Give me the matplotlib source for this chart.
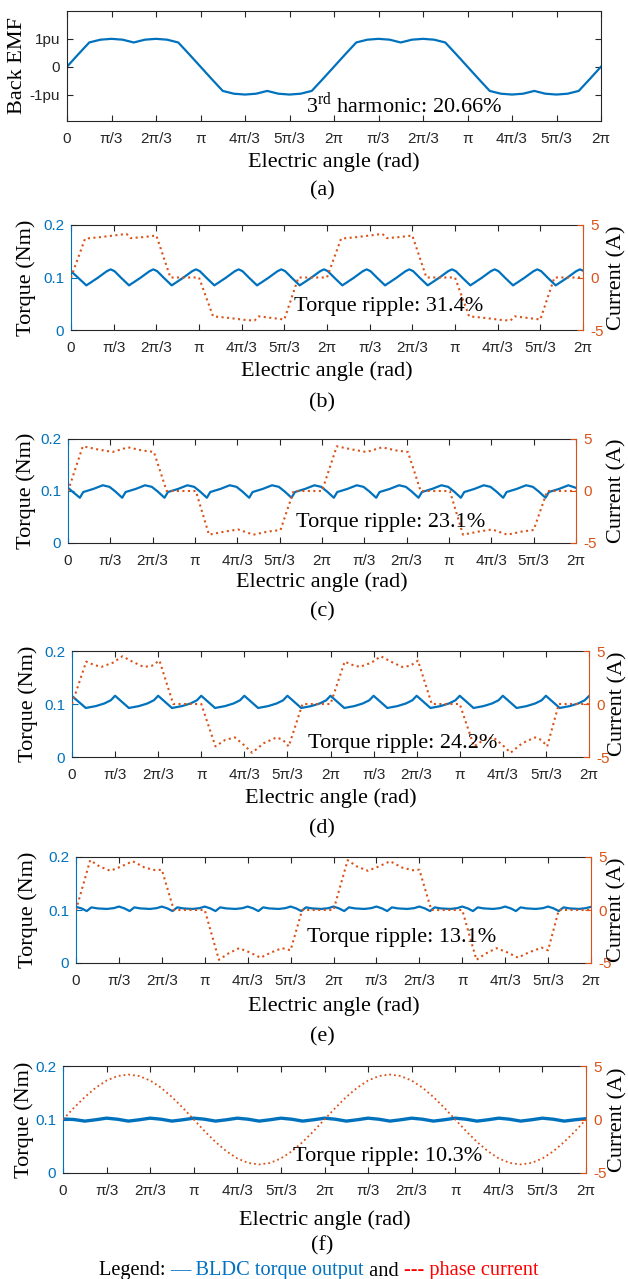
import numpy as np
import matplotlib.pyplot as plt

plt.rcParams['font.family'] = 'Liberation Serif'
plt.rcParams['mathtext.fontset'] = 'custom'
plt.rcParams['mathtext.rm'] = 'Liberation Serif'

BLUE = '#0072BD'
ORANGE = '#D95319'
GRAY = '#262626'
TICKFONT = 'Liberation Sans'

# x is in units of pi/3, two electrical periods
xtick_pos = list(range(13))
xtick_labels = ['0', 'π/3', '2π/3', 'π', '4π/3', '5π/3', '2π',
                'π/3', '2π/3', 'π', '4π/3', '5π/3', '2π']

# (a) back EMF, sampled every pi/12
emf_x = np.linspace(0, 12, 49)
emf = [0, 0.44, 0.87, 0.97, 1.0, 0.97, 0.87, 0.97, 1.0, 0.97, 0.87, 0.44,
       0, -0.44, -0.87, -0.97, -1.0, -0.97, -0.87, -0.97, -1.0, -0.97, -0.87, -0.44,
       0, 0.44, 0.87, 0.97, 1.0, 0.97, 0.87, 0.97, 1.0, 0.97, 0.87, 0.44,
       0, -0.44, -0.87, -0.97, -1.0, -0.97, -0.87, -0.97, -1.0, -0.97, -0.87, -0.44,
       0]

# (b)
tq_b_x = [0,
          0.36, 0.62, 0.84, 0.93, 1.02, 1.18,
          1.36, 1.62, 1.84, 1.93, 2.02, 2.18,
          2.36, 2.62, 2.84, 2.93, 3.02, 3.18,
          3.36, 3.62, 3.84, 3.93, 4.02, 4.18,
          4.36, 4.62, 4.84, 4.93, 5.02, 5.18,
          5.36, 5.62, 5.84, 5.93, 6.02, 6.18,
          6.36, 6.62, 6.84, 6.93, 7.02, 7.18,
          7.36, 7.62, 7.84, 7.93, 8.02, 8.18,
          8.36, 8.62, 8.84, 8.93, 9.02, 9.18,
          9.36, 9.62, 9.84, 9.93, 10.02, 10.18,
          10.36, 10.62, 10.84, 10.93, 11.02, 11.18,
          11.36, 11.62, 11.84, 11.93, 12.0]
tq_b_y = [0.112,
          0.085, 0.099, 0.112, 0.1155, 0.112, 0.099,
          0.085, 0.099, 0.112, 0.1155, 0.112, 0.099,
          0.085, 0.099, 0.112, 0.1155, 0.112, 0.099,
          0.085, 0.099, 0.112, 0.1155, 0.112, 0.099,
          0.085, 0.099, 0.112, 0.1155, 0.112, 0.099,
          0.085, 0.099, 0.112, 0.1155, 0.112, 0.099,
          0.085, 0.099, 0.112, 0.1155, 0.112, 0.099,
          0.085, 0.099, 0.112, 0.1155, 0.112, 0.099,
          0.085, 0.099, 0.112, 0.1155, 0.112, 0.099,
          0.085, 0.099, 0.112, 0.1155, 0.112, 0.099,
          0.085, 0.099, 0.112, 0.1155, 0.112, 0.099,
          0.085, 0.099, 0.112, 0.1155, 0.113]
cur_b_x = [0, 0.33, 0.7, 1.1, 1.3, 1.4, 1.7, 2.0, 2.33, 3.0,
           3.33, 3.7, 4.1, 4.3, 4.4, 4.7, 5.0, 5.33, 6.0,
           6.33, 6.7, 7.1, 7.3, 7.4, 7.7, 8.0, 8.33, 9.0,
           9.33, 9.7, 10.1, 10.3, 10.4, 10.7, 11.0, 11.33, 12.0]
cur_b_y = [0, 3.7, 3.85, 4.05, 4.15, 3.75, 3.85, 4.0, 0, 0,
           -3.7, -3.85, -4.05, -4.1, -3.7, -3.85, -4.0, 0, 0,
           3.7, 3.85, 4.05, 4.15, 3.75, 3.85, 4.0, 0, 0,
           -3.7, -3.85, -4.05, -4.1, -3.7, -3.85, -4.0, 0, 0]

# (c)
tq_c_x = [0,
          0.28, 0.36, 0.6, 0.82, 0.98, 1.12,
          1.28, 1.36, 1.6, 1.82, 1.98, 2.12,
          2.28, 2.36, 2.6, 2.82, 2.98, 3.12,
          3.28, 3.36, 3.6, 3.82, 3.98, 4.12,
          4.28, 4.36, 4.6, 4.82, 4.98, 5.12,
          5.28, 5.36, 5.6, 5.82, 5.98, 6.12,
          6.28, 6.36, 6.6, 6.82, 6.98, 7.12,
          7.28, 7.36, 7.6, 7.82, 7.98, 8.12,
          8.28, 8.36, 8.6, 8.82, 8.98, 9.12,
          9.28, 9.36, 9.6, 9.82, 9.98, 10.12,
          10.28, 10.36, 10.6, 10.82, 10.98, 11.12,
          11.28, 11.36, 11.6, 11.82, 12.0]
tq_c_y = [0.106,
          0.087, 0.098, 0.104, 0.111, 0.108, 0.099,
          0.087, 0.098, 0.104, 0.111, 0.108, 0.099,
          0.087, 0.098, 0.104, 0.111, 0.108, 0.099,
          0.087, 0.098, 0.104, 0.111, 0.108, 0.099,
          0.087, 0.098, 0.104, 0.111, 0.108, 0.099,
          0.087, 0.098, 0.104, 0.111, 0.108, 0.099,
          0.087, 0.098, 0.104, 0.111, 0.108, 0.099,
          0.087, 0.098, 0.104, 0.111, 0.108, 0.099,
          0.087, 0.098, 0.104, 0.111, 0.108, 0.099,
          0.087, 0.098, 0.104, 0.111, 0.108, 0.099,
          0.087, 0.098, 0.104, 0.111, 0.108, 0.099,
          0.087, 0.098, 0.104, 0.111, 0.106]
cur_c_x = [0, 0.35, 0.7, 1.05, 1.42, 1.75, 2.03, 2.33, 3.02,
           3.33, 3.7, 4.02, 4.38, 4.72, 5.02, 5.33, 6.0,
           6.35, 6.7, 7.05, 7.42, 7.75, 8.03, 8.33, 9.02,
           9.33, 9.7, 10.02, 10.38, 10.72, 11.0, 11.32, 12.0]
cur_c_y = [0, 4.3, 4.0, 3.75, 4.2, 3.9, 3.75, 0, 0,
           -4.2, -3.9, -3.7, -4.2, -3.9, -3.75, 0, 0,
           4.3, 4.0, 3.75, 4.2, 3.9, 3.75, 0, 0,
           -4.2, -3.9, -3.7, -4.2, -3.9, -3.75, 0, 0]

# (d)
tq_d_x = [0,
          0.32, 0.55, 0.75, 0.9, 1.0,
          1.32, 1.55, 1.75, 1.9, 2.0,
          2.32, 2.55, 2.75, 2.9, 3.0,
          3.32, 3.55, 3.75, 3.9, 4.0,
          4.32, 4.55, 4.75, 4.9, 5.0,
          5.32, 5.55, 5.75, 5.9, 6.0,
          6.32, 6.55, 6.75, 6.9, 7.0,
          7.32, 7.55, 7.75, 7.9, 8.0,
          8.32, 8.55, 8.75, 8.9, 9.0,
          9.32, 9.55, 9.75, 9.9, 10.0,
          10.32, 10.55, 10.75, 10.9, 11.0,
          11.32, 11.55, 11.75, 11.9, 12.0]
tq_d_y = [0.115,
          0.0925, 0.096, 0.101, 0.107, 0.1155,
          0.0925, 0.096, 0.101, 0.107, 0.1155,
          0.0925, 0.096, 0.101, 0.107, 0.1155,
          0.0925, 0.096, 0.101, 0.107, 0.1155,
          0.0925, 0.096, 0.101, 0.107, 0.1155,
          0.0925, 0.096, 0.101, 0.107, 0.1155,
          0.0925, 0.096, 0.101, 0.107, 0.1155,
          0.0925, 0.096, 0.101, 0.107, 0.1155,
          0.0925, 0.096, 0.101, 0.107, 0.1155,
          0.0925, 0.096, 0.101, 0.107, 0.1155,
          0.0925, 0.096, 0.101, 0.107, 0.1155,
          0.0925, 0.096, 0.101, 0.107, 0.115]
cur_d_x = [0, 0.33, 0.5, 0.68, 0.95, 1.17, 1.4, 1.66, 1.85, 2.03, 2.35, 3.0,
           3.33, 3.55, 3.78, 4.0, 4.18, 4.45, 4.75, 4.9, 5.03, 5.35, 6.0,
           6.33, 6.5, 6.68, 6.95, 7.17, 7.4, 7.66, 7.85, 8.03, 8.35, 9.0,
           9.33, 9.55, 9.78, 10.0, 10.18, 10.45, 10.75, 10.9, 11.03, 11.3, 12.0]
cur_d_y = [0, 4.0, 3.7, 3.5, 3.9, 4.5, 4.0, 3.5, 3.6, 4.1, 0, 0,
           -4.0, -3.4, -3.15, -3.9, -4.6, -3.7, -3.15, -3.4, -4.0, 0, 0,
           4.0, 3.7, 3.5, 3.9, 4.5, 4.0, 3.5, 3.6, 4.1, 0, 0,
           -4.0, -3.4, -3.15, -3.9, -4.6, -3.7, -3.15, -3.4, -4.0, 0, 0]

# (e)
tq_e_x = [0,
          0.13, 0.25, 0.36, 0.5, 0.72, 0.88, 1.0,
          1.13, 1.25, 1.36, 1.5, 1.72, 1.88, 2.0,
          2.13, 2.25, 2.36, 2.5, 2.72, 2.88, 3.0,
          3.13, 3.25, 3.36, 3.5, 3.72, 3.88, 4.0,
          4.13, 4.25, 4.36, 4.5, 4.72, 4.88, 5.0,
          5.13, 5.25, 5.36, 5.5, 5.72, 5.88, 6.0,
          6.13, 6.25, 6.36, 6.5, 6.72, 6.88, 7.0,
          7.13, 7.25, 7.36, 7.5, 7.72, 7.88, 8.0,
          8.13, 8.25, 8.36, 8.5, 8.72, 8.88, 9.0,
          9.13, 9.25, 9.36, 9.5, 9.72, 9.88, 10.0,
          10.13, 10.25, 10.36, 10.5, 10.72, 10.88, 11.0,
          11.13, 11.25, 11.36, 11.5, 11.72, 11.88, 12.0]
tq_e_y = [0.106,
          0.103, 0.098, 0.105, 0.103, 0.102, 0.1035, 0.1065,
          0.103, 0.098, 0.105, 0.103, 0.102, 0.1035, 0.1065,
          0.103, 0.098, 0.105, 0.103, 0.102, 0.1035, 0.1065,
          0.103, 0.098, 0.105, 0.103, 0.102, 0.1035, 0.1065,
          0.103, 0.098, 0.105, 0.103, 0.102, 0.1035, 0.1065,
          0.103, 0.098, 0.105, 0.103, 0.102, 0.1035, 0.1065,
          0.103, 0.098, 0.105, 0.103, 0.102, 0.1035, 0.1065,
          0.103, 0.098, 0.105, 0.103, 0.102, 0.1035, 0.1065,
          0.103, 0.098, 0.105, 0.103, 0.102, 0.1035, 0.1065,
          0.103, 0.098, 0.105, 0.103, 0.102, 0.1035, 0.1065,
          0.103, 0.098, 0.105, 0.103, 0.102, 0.1035, 0.1065,
          0.103, 0.098, 0.105, 0.103, 0.102, 0.1035, 0.106]
cur_e_x = [0, 0.33, 0.55, 0.8, 1.05, 1.32, 1.6, 1.85, 2.0, 2.28, 3.0,
           3.33, 3.55, 3.8, 4.05, 4.3, 4.55, 4.8, 5.0, 5.27, 6.0,
           6.33, 6.55, 6.8, 7.05, 7.32, 7.6, 7.85, 8.0, 8.28, 9.0,
           9.33, 9.55, 9.8, 10.05, 10.3, 10.55, 10.85, 11.0, 11.25, 12.0]
cur_e_y = [0, 4.7, 4.1, 3.7, 4.1, 4.6, 4.0, 3.75, 3.8, 0, 0,
           -4.7, -4.1, -3.6, -4.0, -4.5, -4.0, -3.6, -3.8, 0, 0,
           4.7, 4.1, 3.7, 4.1, 4.6, 4.0, 3.75, 3.8, 0, 0,
           -4.7, -4.1, -3.6, -4.0, -4.5, -4.0, -3.55, -3.8, 0, 0]

# (f) sinusoidal current, sampled every pi/12
tq_f_x = np.linspace(0, 12, 49)
tq_f_y = [0.101, 0.1, 0.097, 0.0995,
          0.1025, 0.1005, 0.097, 0.0995,
          0.1025, 0.1005, 0.097, 0.0995,
          0.1025, 0.1005, 0.097, 0.0995,
          0.1025, 0.1005, 0.097, 0.0995,
          0.1025, 0.1005, 0.097, 0.0995,
          0.1025, 0.1005, 0.097, 0.0995,
          0.1025, 0.1005, 0.097, 0.0995,
          0.1025, 0.1005, 0.097, 0.0995,
          0.1025, 0.1005, 0.097, 0.0995,
          0.1025, 0.1005, 0.097, 0.0995,
          0.1025, 0.1005, 0.097, 0.0995,
          0.1015]
cur_f_x = np.linspace(0, 12, 49)
cur_f_y = [0, 1.09, 2.1, 2.97, 3.64, 4.06, 4.2, 4.06, 3.64, 2.97, 2.1, 1.09,
           0, -1.09, -2.1, -2.97, -3.64, -4.06, -4.2, -4.06, -3.64, -2.97, -2.1, -1.09,
           0, 1.09, 2.1, 2.97, 3.64, 4.06, 4.2, 4.06, 3.64, 2.97, 2.1, 1.09,
           0, -1.09, -2.1, -2.97, -3.64, -4.06, -4.2, -4.06, -3.64, -2.97, -2.1, -1.09,
           0]

W, H = 628, 1279
fig = plt.figure(figsize=(W / 100, H / 100), dpi=100)


def add_panel(l, r, t, b):
    return fig.add_axes([l / W, 1 - b / H, (r - l) / W, (b - t) / H])


def style_x(ax, h, xlab_gap):
    ax.set_xlim(0, 12)
    ax.set_xticks(xtick_pos)
    ax.set_xticklabels(xtick_labels, fontfamily=TICKFONT, fontsize=11)
    ax.tick_params(axis='x', direction='in', top=True, length=4, width=0.8,
                   pad=8, colors=GRAY)
    ax.set_xlabel('Electric angle (rad)', fontsize=16)
    ax.xaxis.set_label_coords(0.5, -xlab_gap / h)
    ax.xaxis.label.set_va('center')


# ---------------- (a) ----------------
l, r, t, b = 67, 601, 11, 121
ax = add_panel(l, r, t, b)
ax.plot(emf_x, emf, color=BLUE, lw=1.6)
ax.set_ylim(-1.95, 2.0)
ax.set_yticks([-1, 0, 1])
ax.set_yticklabels(['-1pu', '0', '1pu'], fontfamily=TICKFONT, fontsize=11)
ax.tick_params(axis='y', direction='in', right=True, length=4, width=0.8,
               pad=5, colors=GRAY)
for s in ax.spines.values():
    s.set_color(GRAY)
    s.set_linewidth(0.8)
style_x(ax, b - t, 41)
ax.set_ylabel('Back EMF', fontsize=16)
ax.yaxis.set_label_coords((18 - l) / (r - l), 0.5)
ax.yaxis.label.set_va('center')
ax.text(5.37, -1.36, '3$^{\\mathrm{rd}}$ harmonic: 20.66%', fontsize=16,
        ha='left', va='center')
fig.text(322 / W, 1 - 191 / H, '(a)', fontsize=16, ha='center', va='center')

# ---------------- (b)-(f) ----------------
panels = [
    ((71, 583, 225, 330), tq_b_x, tq_b_y, cur_b_x, cur_b_y, 1.6, 1.5,
     'Torque ripple: 31.4%', (5.23, 0.044), '(b)', 403, 26, 617, 41),
    ((68, 576, 439, 543), tq_c_x, tq_c_y, cur_c_x, cur_c_y, 1.6, 1.5,
     'Torque ripple: 23.1%', (5.39, 0.040), '(c)', 612, 26, 617, 39),
    ((72, 589, 651, 757), tq_d_x, tq_d_y, cur_d_x, cur_d_y, 1.6, 1.5,
     'Torque ripple: 24.2%', (5.48, 0.025), '(d)', 829, 28, 618, 41),
    ((76, 591, 857, 963), tq_e_x, tq_e_y, cur_e_x, cur_e_y, 1.6, 1.5,
     'Torque ripple: 13.1%', (5.38, 0.049), '(e)', 1037, 28, 617, 43),
    ((63, 586, 1066, 1173), tq_f_x, tq_f_y, cur_f_x, cur_f_y, 2.4, 1.3,
     'Torque ripple: 10.3%', (5.28, 0.030), '(f)', 1246, 24, 618, 47),
]

for (rect, tx, ty, cx, cy, tlw, clw, note, note_xy, tag, tag_y,
     ylx, yrx, xgap) in panels:
    l, r, t, b = rect
    ax = add_panel(l, r, t, b)
    ax2 = ax.twinx()
    ax.plot(tx, ty, color=BLUE, lw=tlw)
    ax2.plot(cx, cy, color=ORANGE, lw=clw, ls=':')

    ax.set_ylim(0, 0.2)
    ax.set_yticks([0, 0.1, 0.2])
    ax.set_yticklabels(['0', '0.1', '0.2'], fontfamily=TICKFONT, fontsize=11)
    ax.tick_params(axis='y', direction='in', length=4, width=0.8, pad=5,
                   colors=BLUE)
    ax2.set_ylim(-5, 5)
    ax2.set_yticks([-5, 0, 5])
    ax2.set_yticklabels(['-5', '0', '5'], fontfamily=TICKFONT, fontsize=11)
    ax2.tick_params(axis='y', direction='in', length=4, width=0.8, pad=5,
                    colors=ORANGE)

    ax.spines['left'].set_color(BLUE)
    ax.spines['right'].set_visible(False)
    ax.spines['top'].set_color(GRAY)
    ax.spines['bottom'].set_color(GRAY)
    ax2.spines['right'].set_color(ORANGE)
    for side in ['left', 'top', 'bottom']:
        ax2.spines[side].set_visible(False)
    for s in list(ax.spines.values()) + list(ax2.spines.values()):
        s.set_linewidth(0.8)

    style_x(ax, b - t, xgap)
    ax.set_ylabel('Torque (Nm)', fontsize=16)
    ax.yaxis.set_label_coords((ylx - l) / (r - l), 0.5)
    ax.yaxis.label.set_va('center')
    ax2.set_ylabel('Current (A)', fontsize=16, rotation=90)
    ax2.yaxis.set_label_coords((yrx - l) / (r - l), 0.5)
    ax2.yaxis.label.set_va('center')

    ax2.text(note_xy[0], note_xy[1], note, transform=ax.transData,
             fontsize=16, ha='left', va='center', zorder=5)
    fig.text(322 / W, 1 - tag_y / H, tag, fontsize=16, ha='center',
             va='center')

# legend line at the bottom
leg = fig.text(99 / W, 1 - 1271 / H, 'Legend: ', fontsize=14.7, ha='left',
               va='center')
parts = [('— BLDC torque output', '#0070C0'), (' and ', 'black'),
         ('--- phase current', '#FF0000')]
prev = leg
for s, c in parts:
    prev = fig.axes[-1].annotate(s, xy=(1, 0.5), xycoords=prev, ha='left',
                                 va='center', fontsize=14.7, color=c,
                                 annotation_clip=False)

fig.savefig('out.png', dpi=100)
